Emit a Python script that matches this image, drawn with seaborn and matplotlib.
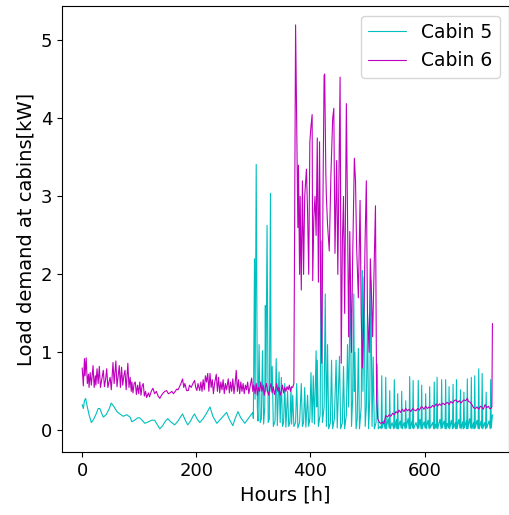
import matplotlib
matplotlib.use("Agg")
import matplotlib.pyplot as plt
import seaborn as sns
import pandas as pd

# ---------------- Cabin 5 (hours, load kW) ----------------
hours5 = [0, 2, 4, 6, 9, 12, 16, 20, 25, 28, 31, 34, 37, 42, 47, 51, 56, 61, 66, 72, 78, 84, 87, 92, 97, 101,
          106, 110, 116, 122, 127, 131, 136, 141, 146, 150, 155, 162, 168, 173, 176, 180, 185, 190, 194, 197,
          201, 206, 212, 218, 224, 229, 236, 241, 247, 253, 258, 264, 268, 273, 278, 285, 290, 295, 299,
          300, 302, 303, 305, 307, 308, 310, 312, 314, 316, 318, 320, 321, 322, 324, 326, 328, 330, 331, 333,
          335, 338, 340, 342, 345, 347, 349, 351, 353, 355, 357, 360, 362, 364, 366, 367, 369, 371, 374, 376,
          378, 381, 384, 386, 388, 390, 392, 395, 397, 399, 401, 403, 405, 407, 410, 411, 412, 414, 417, 419,
          421, 424, 426, 428, 430, 432, 435, 437, 439, 442, 445, 447, 451, 453, 456, 458, 460, 463, 465, 467,
          470, 472, 474, 476, 477, 478, 480, 482, 484, 486, 489, 491, 492, 494, 496, 498, 500, 502, 504, 506,
          508, 510, 512, 515, 517, 519, 522,
          524, 525, 526, 528, 531, 532, 533, 536, 538, 539, 540, 543, 546, 547, 548, 551, 552, 553, 554, 557,
          559, 560, 561, 564, 566, 567, 568, 571, 573, 574, 575, 578, 579, 580, 581, 585, 588, 589, 590, 592,
          594, 595, 596, 599, 601, 602, 603, 606, 608, 609, 610, 614, 616, 617, 618, 620, 621, 622, 623, 627,
          629, 630, 631, 634, 636, 637, 638, 640, 642, 643, 644, 647, 649, 650, 651, 654, 655, 656, 657, 660,
          662, 663, 664, 667, 668, 669, 670, 673, 674, 675, 676, 679, 681, 682, 683, 686, 687, 688, 689, 692,
          694, 695, 696, 699, 700, 701, 702, 705, 707, 708, 709, 713, 715, 716, 717, 719]
load5 = [0.33, 0.28, 0.38, 0.41, 0.30, 0.20, 0.10, 0.14, 0.22, 0.28, 0.28, 0.22, 0.17, 0.20, 0.27, 0.35, 0.30,
         0.24, 0.21, 0.18, 0.20, 0.17, 0.11, 0.13, 0.16, 0.16, 0.12, 0.09, 0.11, 0.13, 0.13, 0.08, 0.02, 0.06,
         0.12, 0.15, 0.11, 0.07, 0.12, 0.18, 0.21, 0.14, 0.07, 0.12, 0.18, 0.21, 0.15, 0.10, 0.15, 0.22, 0.30,
         0.18, 0.09, 0.13, 0.18, 0.23, 0.14, 0.06, 0.15, 0.24, 0.16, 0.09, 0.14, 0.19, 0.23,
         0.15, 2.20, 0.40, 3.41, 0.30, 0.12, 1.10, 0.10, 0.15, 1.02, 0.08, 0.30, 1.60, 0.50, 2.63, 0.10, 0.15,
         3.04, 0.50, 0.82, 0.05, 0.12, 0.92, 0.06, 0.75, 0.10, 0.68, 0.05, 0.10, 0.60, 0.04, 0.50, 0.05, 0.10,
         0.55, 0.08, 0.45, 0.05, 0.10, 0.60, 0.03, 0.10, 0.60, 0.05, 0.10, 0.55, 0.04, 0.45, 0.05, 0.15, 0.74,
         0.10, 0.70, 0.08, 1.02, 0.30, 0.90, 0.05, 0.20, 2.43, 0.10, 0.30, 1.75, 0.05, 1.10, 0.02, 0.10, 0.90,
         0.02, 0.15, 0.90, 0.03, 0.95, 0.02, 0.10, 0.82, 0.02, 0.20, 1.10, 0.30, 2.00, 0.05, 0.40, 1.75, 0.50,
         1.00, 0.02, 0.15, 1.05, 0.02, 0.30, 2.05, 0.50, 1.97, 0.05, 0.30, 1.50, 0.02, 0.40, 1.92, 0.05, 0.94,
         0.02, 0.10, 0.85, 0.02, 0.05,
         0.02, 0.70, 0.03, 0.12, 0.02, 0.68, 0.02, 0.15, 0.03, 0.51, 0.02, 0.10, 0.02, 0.65, 0.03, 0.14, 0.02,
         0.47, 0.02, 0.12, 0.03, 0.50, 0.02, 0.10, 0.02, 0.38, 0.03, 0.15, 0.02, 0.69, 0.02, 0.12, 0.03, 0.64,
         0.02, 0.10, 0.02, 0.64, 0.03, 0.14, 0.02, 0.58, 0.02, 0.11, 0.03, 0.47, 0.02, 0.13, 0.02, 0.56, 0.03,
         0.10, 0.02, 0.62, 0.02, 0.08, 0.03, 0.68, 0.02, 0.14, 0.02, 0.65, 0.03, 0.12, 0.02, 0.65, 0.02, 0.09,
         0.03, 0.56, 0.02, 0.13, 0.02, 0.59, 0.03, 0.10, 0.02, 0.65, 0.02, 0.14, 0.03, 0.52, 0.02, 0.11, 0.02,
         0.49, 0.03, 0.12, 0.02, 0.66, 0.02, 0.15, 0.03, 0.68, 0.02, 0.10, 0.02, 0.70, 0.03, 0.13, 0.02, 0.79,
         0.02, 0.12, 0.03, 0.73, 0.02, 0.10, 0.02, 0.49, 0.03, 0.12, 0.02, 0.65, 0.03, 0.20]

# ---------------- Cabin 6 (hours, load kW) ----------------
hours6 = [0, 2, 4, 5, 7, 9, 11, 12, 14, 16, 19, 21, 23, 24, 26, 28, 30, 32, 35, 37, 39, 41, 43, 45, 47, 49,
          51, 54, 56, 59, 61, 63, 65, 67, 69, 71, 73, 75, 77, 80, 82, 84, 86, 87, 89, 91, 93, 95, 97, 99, 101,
          103, 105, 107, 109, 111, 113, 116, 118, 121, 124, 127, 130, 133, 136, 139, 142, 145, 148, 151, 154,
          157, 160, 163, 166, 168, 170, 173, 176, 178, 180, 183, 186, 188, 191, 194, 197, 199, 201, 203, 206,
          208, 210, 212, 214, 216, 218, 220, 222, 224, 226, 228, 230, 232, 235, 237, 239, 241, 243, 245, 247,
          249, 251, 253, 256, 258, 260, 262, 264, 266, 268, 270, 272, 274, 276, 278, 280, 282, 284, 286, 288,
          290, 292, 294, 297, 299, 301, 303, 305, 307, 309, 311, 313, 315, 317, 319, 321, 323, 325, 327, 329,
          331, 333, 335, 337, 339, 341, 343, 345, 347, 349, 351, 353, 355, 357, 359, 361, 363, 365, 367, 369,
          371, 374, 376, 377, 378, 379, 381, 382, 384, 386, 388, 390, 393, 395, 397, 399, 401, 403, 404, 406,
          408, 410, 412, 414, 416, 418, 420, 422, 424, 425, 427, 428, 430, 433, 436, 439, 441, 443, 446, 448,
          452, 454, 456, 458, 460, 463, 465, 467, 469, 472, 474, 477, 479, 481, 484, 487, 489, 491, 494, 496,
          498, 500, 503, 505, 507, 509, 512, 514, 516, 518, 521, 523, 526, 529, 532, 535, 538, 541, 544, 547,
          550, 553, 555, 558, 561, 564, 567, 570, 573, 576, 579, 582, 585, 588, 591, 594, 596, 599, 602, 605,
          608, 611, 614, 617, 620, 623, 626, 629, 632, 635, 637, 640, 643, 646, 649, 652, 655, 658, 661, 664,
          666, 669, 672, 675, 677, 680, 683, 686, 689, 692, 695, 698, 700, 703, 706, 709, 712, 714, 716, 718,
          719]
load6 = [0.80, 0.57, 0.92, 0.70, 0.93, 0.60, 0.72, 0.55, 0.74, 0.58, 0.83, 0.55, 0.70, 0.58, 0.79, 0.60, 0.82,
         0.55, 0.68, 0.77, 0.56, 0.65, 0.79, 0.55, 0.62, 0.68, 0.52, 0.87, 0.60, 0.89, 0.56, 0.70, 0.83, 0.55,
         0.81, 0.58, 0.70, 0.77, 0.52, 0.86, 0.55, 0.68, 0.50, 0.62, 0.48, 0.60, 0.62, 0.46, 0.58, 0.47, 0.62,
         0.45, 0.57, 0.60, 0.44, 0.50, 0.42, 0.48, 0.43, 0.50, 0.54, 0.47, 0.50, 0.44, 0.41, 0.45, 0.48, 0.50,
         0.51, 0.47, 0.48, 0.50, 0.47, 0.50, 0.53, 0.52, 0.55, 0.60, 0.66, 0.55, 0.60, 0.51, 0.51, 0.58, 0.55,
         0.60, 0.64, 0.55, 0.51, 0.60, 0.51, 0.62, 0.50, 0.65, 0.52, 0.70, 0.62, 0.73, 0.50, 0.73, 0.55, 0.65,
         0.47, 0.60, 0.72, 0.50, 0.68, 0.48, 0.62, 0.52, 0.65, 0.47, 0.60, 0.52, 0.66, 0.48, 0.62, 0.50, 0.66,
         0.47, 0.60, 0.77, 0.50, 0.65, 0.47, 0.62, 0.50, 0.60, 0.47, 0.58, 0.52, 0.62, 0.47, 0.55, 0.67, 0.50,
         0.58, 0.47, 0.60, 0.45, 0.55, 0.50, 0.62, 0.50, 0.58, 0.45, 0.55, 0.60, 0.50, 0.45, 0.55, 0.60, 0.48,
         0.56, 0.46, 0.52, 0.60, 0.50, 0.55, 0.45, 0.50, 0.58, 0.48, 0.55, 0.50, 0.56, 0.52, 0.58, 0.50, 0.56,
         0.55, 0.60, 5.20, 3.90, 3.30, 2.60, 3.40, 2.00, 3.00, 1.80, 3.20, 2.00, 3.00, 3.35, 2.80, 2.00, 3.70,
         3.90, 4.05, 1.92, 2.73, 3.00, 2.50, 3.75, 1.90, 3.70, 1.75, 0.86, 3.00, 4.55, 4.57, 3.30, 2.99, 2.64,
         2.30, 3.30, 4.00, 4.13, 2.27, 3.46, 2.00, 4.53, 0.86, 2.40, 3.00, 1.50, 4.19, 2.78, 1.20, 2.55, 1.00,
         2.20, 3.49, 3.20, 2.34, 1.70, 2.95, 1.50, 0.80, 1.60, 2.50, 3.20, 1.50, 1.00, 2.20, 1.75, 1.20, 2.20,
         2.88, 0.42, 0.15, 0.10, 0.09, 0.10, 0.09, 0.19, 0.17, 0.20, 0.18, 0.22, 0.20, 0.24, 0.22, 0.26, 0.23,
         0.27, 0.24, 0.28, 0.25, 0.27, 0.24, 0.28, 0.26, 0.25, 0.28, 0.26, 0.30, 0.30, 0.27, 0.31, 0.28, 0.30,
         0.29, 0.32, 0.30, 0.34, 0.31, 0.34, 0.32, 0.35, 0.33, 0.34, 0.36, 0.33, 0.37, 0.35, 0.38, 0.39, 0.36,
         0.38, 0.35, 0.37, 0.39, 0.38, 0.41, 0.37, 0.36, 0.33, 0.29, 0.28, 0.30, 0.27, 0.31, 0.30, 0.27, 0.33,
         0.29, 0.31, 0.28, 0.28, 0.30, 1.37]

series_names = ["Cabin 5", "Cabin 6"]
x_label = "Hours [h]"
y_label = "Load demand at cabins[kW]"

sns.set_style("ticks", {"axes.edgecolor": "black", "text.color": "black",
                        "axes.labelcolor": "black", "xtick.color": "black",
                        "ytick.color": "black"})
plt.rcParams["font.family"] = ["DejaVu Sans"]

df5 = pd.DataFrame({"hour": hours5, "load": load5})
df6 = pd.DataFrame({"hour": hours6, "load": load6})

fig = plt.figure(figsize=(5.10, 5.15), dpi=100)
ax = fig.add_axes([0.122, 0.122, 0.876, 0.866])

sns.lineplot(data=df5, x="hour", y="load", color="c", linewidth=0.8, label=series_names[0], ax=ax)
sns.lineplot(data=df6, x="hour", y="load", color="m", linewidth=0.8, label=series_names[1], ax=ax)

ax.set_xlabel(x_label, fontsize=14)
ax.set_ylabel(y_label, fontsize=14)
ax.tick_params(labelsize=13, colors="black")
ax.set_xticks([0, 200, 400, 600])
ax.set_yticks([0, 1, 2, 3, 4, 5])
ax.set_xlim(-35, 748)
ax.set_ylim(-0.28, 5.44)
ax.legend(loc="upper right", fontsize=13.5)

fig.savefig("out.png", dpi=100)
